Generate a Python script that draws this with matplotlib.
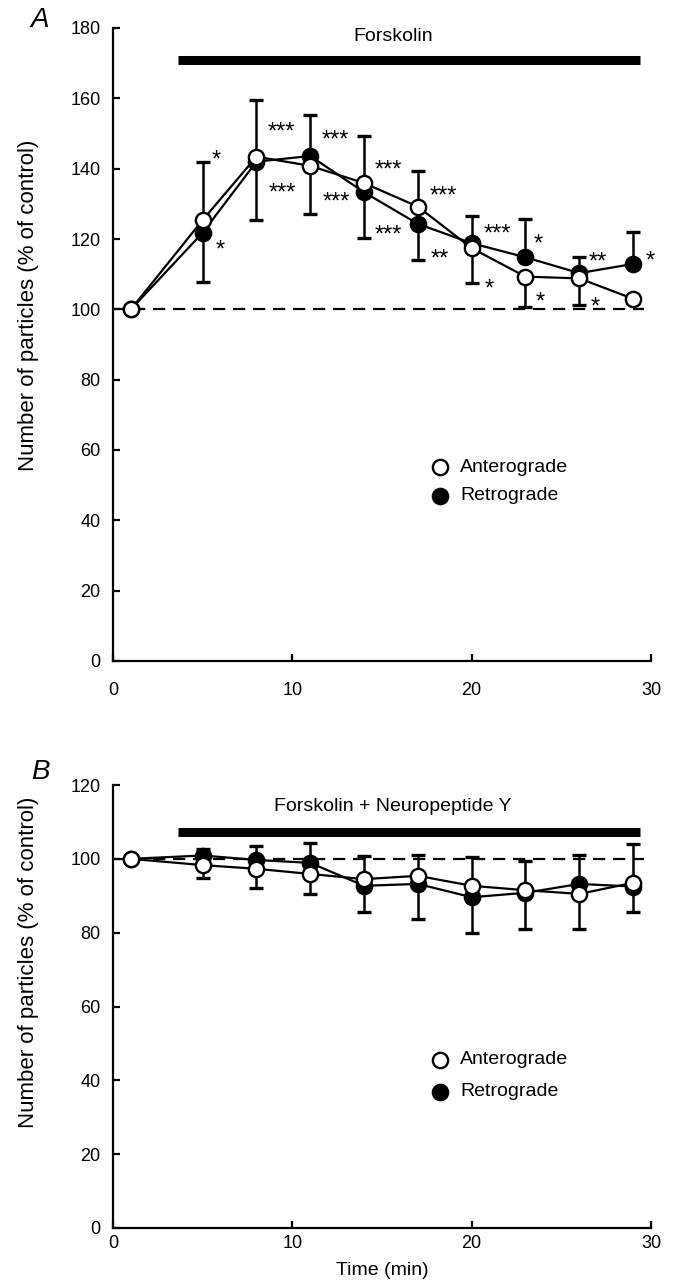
import numpy as np
import matplotlib
matplotlib.use("Agg")
import matplotlib.pyplot as plt

plt.rcParams['font.family'] = ['Liberation Sans', 'DejaVu Sans']

# ---- data -------------------------------------------------------------
time_min = [1, 5, 8, 11, 14, 17, 20, 23, 26, 29]

# Panel A: forskolin
a_ante = [100, 125.4, 143.4, 140.8, 135.9, 129.2, 117.4, 109.3, 108.8, 103.0]
a_ante_up = [0, 16.6, 16.2, 0, 13.4, 10.2, 0, 0, 0, 0]
a_ante_down = [0, 0, 0, 13.8, 0, 0, 10.0, 8.7, 7.6, 1.1]
a_retro = [100, 121.8, 142.0, 143.6, 133.3, 124.3, 118.8, 114.8, 110.3, 112.9]
a_retro_up = [0, 0, 0, 11.7, 0, 0, 7.8, 11.0, 4.7, 9.2]
a_retro_down = [0, 13.9, 16.6, 0, 13.1, 10.4, 0, 0, 0, 0]

# significance marks (x, y, label)
a_stars = [
    (5.74, 144.5, "*"), (5.97, 118.9, "*"),
    (9.37, 152.4, "***"), (9.43, 135.1, "***"),
    (12.38, 150.2, "***"), (12.44, 132.5, "***"),
    (15.34, 141.6, "***"), (15.34, 123.1, "***"),
    (18.40, 134.2, "***"), (18.24, 116.3, "**"),
    (21.42, 123.4, "***"), (20.97, 107.8, "*"),
    (23.70, 120.6, "*"), (23.82, 104.1, "*"),
    (27.05, 115.5, "**"), (26.88, 102.7, "*"),
    (29.95, 115.7, "*"), (30.23, 98.4, "**"),
]

# Panel B: forskolin + neuropeptide Y
b_ante = [100, 98.3, 97.3, 95.9, 94.5, 95.4, 92.7, 91.5, 90.5, 93.5]
b_ante_up = [0, 0, 0, 0, 6.3, 5.6, 7.8, 7.9, 0, 10.4]
b_ante_down = [0, 3.4, 5.1, 5.4, 0, 0, 0, 0, 9.6, 0]
b_retro = [100, 100.9, 99.7, 98.9, 92.7, 93.2, 89.6, 90.8, 93.2, 92.5]
b_retro_up = [0, 1.8, 3.7, 5.4, 0, 0, 0, 0, 7.8, 0]
b_retro_down = [0, 0, 0, 0, 7.0, 9.6, 9.6, 9.9, 0, 6.9]

x_ticks = [0, 10, 20, 30]
a_yticks = list(range(0, 181, 20))
b_yticks = list(range(0, 121, 20))

# ---- figure -----------------------------------------------------------
fig = plt.figure(figsize=(6.75, 12.85), dpi=100)
ax_a = fig.add_axes([113 / 675, 1 - 661 / 1285, 538 / 675, 633 / 1285])
ax_b = fig.add_axes([113 / 675, 1 - 1228 / 1285, 538 / 675, 443 / 1285])

LW = 1.6
MS = 11
TXT = 14


def draw_series(ax, x, y, up, down, filled):
    x = np.asarray(x, float)
    y = np.asarray(y, float)
    up = np.asarray(up, float)
    down = np.asarray(down, float)
    m_up = up > 0
    m_dn = down > 0
    ekw = dict(fmt='none', ecolor='black', elinewidth=LW + 0.2, capsize=5,
               capthick=2.4, zorder=2)
    if m_up.any():
        ax.errorbar(x[m_up], y[m_up], yerr=[np.zeros(m_up.sum()), up[m_up]], **ekw)
    if m_dn.any():
        ax.errorbar(x[m_dn], y[m_dn], yerr=[down[m_dn], np.zeros(m_dn.sum())], **ekw)
    ax.plot(x, y, color='black', lw=LW, zorder=3)
    ax.plot(x, y, linestyle='none', marker='o', markersize=MS,
            markerfacecolor='black' if filled else 'white',
            markeredgecolor='black', markeredgewidth=1.7, zorder=4 if filled else 5)


def style_axes(ax, yticks, ymax, label_y, xpad):
    ax.set_xlim(0, 30)
    ax.set_ylim(0, ymax)
    ax.set_xticks(x_ticks)
    ax.set_yticks(yticks)
    for side in ('top', 'right'):
        ax.spines[side].set_visible(False)
    for side in ('left', 'bottom'):
        ax.spines[side].set_linewidth(LW)
    ax.tick_params(direction='in', length=5, width=LW, labelsize=13)
    ax.tick_params(axis='y', pad=9)
    ax.tick_params(axis='x', pad=xpad)
    ax.plot([0, 29.6], [100, 100], color='black', lw=LW, dashes=(5.5, 3.5),
            zorder=1)
    ax.set_ylabel('Number of particles (% of control)', fontsize=16)
    ax.yaxis.set_label_coords(-0.138, label_y)


def legend(ax, y0, y1):
    for yy, face, lab in ((y0, 'white', 'Anterograde'), (y1, 'black', 'Retrograde')):
        ax.plot([0.608], [yy], transform=ax.transAxes, marker='o', markersize=MS,
                markerfacecolor=face, markeredgecolor='black',
                markeredgewidth=1.7, linestyle='none', clip_on=False)
        ax.text(0.645, yy, lab, transform=ax.transAxes, fontsize=TXT,
                ha='left', va='center')


def treatment_bar(ax, ybar, ytext, label):
    ax.plot([3.6, 29.4], [ybar, ybar], color='black', lw=6.5,
            solid_capstyle='butt', clip_on=False)
    ax.text(15.6, ytext, label, ha='center', va='center', fontsize=TXT)


# Panel A
style_axes(ax_a, a_yticks, 180, 0.562, 15)
draw_series(ax_a, time_min, a_ante, a_ante_up, a_ante_down, filled=False)
draw_series(ax_a, time_min, a_retro, a_retro_up, a_retro_down, filled=True)
treatment_bar(ax_a, 170.9, 177.6, 'Forskolin')
legend(ax_a, 0.306, 0.261)
STAR_FS = 17
for sx, sy, s in a_stars:
    ax_a.annotate(s, (sx, sy), xytext=(0, -0.58 * STAR_FS), textcoords='offset points',
                  ha='center', va='baseline', fontsize=STAR_FS)

# Panel B
style_axes(ax_b, b_yticks, 120, 0.600, 5)
draw_series(ax_b, time_min, b_ante, b_ante_up, b_ante_down, filled=False)
draw_series(ax_b, time_min, b_retro, b_retro_up, b_retro_down, filled=True)
treatment_bar(ax_b, 107.3, 114.3, 'Forskolin + Neuropeptide Y')
legend(ax_b, 0.380, 0.308)
ax_b.set_xlabel('Time (min)', fontsize=TXT, labelpad=7)

fig.text(40 / 675, 1 - 20 / 1285, 'A', fontsize=20, style='italic',
         ha='center', va='center')
fig.text(40 / 675, 1 - 772 / 1285, 'B', fontsize=20, style='italic',
         ha='center', va='center')

fig.savefig('out.png', dpi=100)
